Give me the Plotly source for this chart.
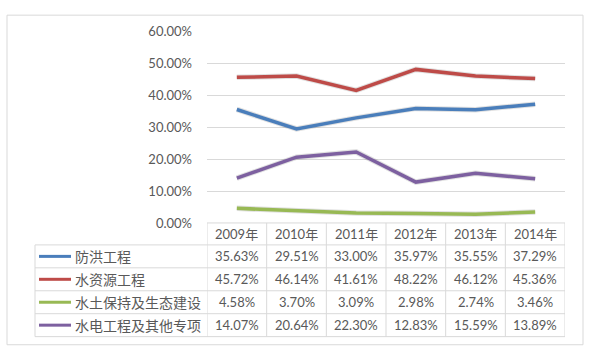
import plotly.graph_objects as go

# ---- data ----
years = ["2009年", "2010年", "2011年", "2012年", "2013年", "2014年"]
series_names = ["防洪工程", "水资源工程", "水土保持及生态建设", "水电工程及其他专项"]
flood = [35.63, 29.51, 33.00, 35.97, 35.55, 37.29]
water = [45.72, 46.14, 41.61, 48.22, 46.12, 45.36]
soil = [4.58, 3.70, 3.09, 2.98, 2.74, 3.46]
hydro = [14.07, 20.64, 22.30, 12.83, 15.59, 13.89]
series_values = [flood, water, soil, hydro]
colors = ["#4A7EBB", "#BE4B48", "#98B954", "#7D60A0"]
y_ticks = [0, 0.1, 0.2, 0.3, 0.4, 0.5, 0.6]

W, H = 589, 358
def px(x):
    return x / W
def py(y):
    return 1 - y / H

TXT = "#595959"
GRID = "#D9D9D9"
NUMFONT = dict(family="Lato, 'Noto Sans CJK SC', sans-serif", size=13, color=TXT)
CJKFONT = dict(family="'Noto Sans CJK SC', sans-serif", size=14, color=TXT)

fig = go.Figure()
idx = list(range(len(years)))
for name, vals, c in zip(series_names, series_values, colors):
    v = [x / 100 for x in vals]
    # faint shadow
    fig.add_trace(go.Scatter(x=idx, y=v, mode="lines", hoverinfo="skip",
                             line=dict(color="rgba(0,0,0,0.12)", width=5.5),
                             showlegend=False))
    fig.add_trace(go.Scatter(x=idx, y=v, mode="lines", name=name,
                             line=dict(color=c, width=3.5), showlegend=False))

# table geometry (pixels)
plot_left, plot_right = 207, 565
table_top = 225
row_lines = [248, 272, 296, 320, 344]
leg_left = 35
row_centers = [(row_lines[i] + row_lines[i + 1]) / 2 for i in range(4)]
header_center = (table_top + row_lines[0]) / 2

shapes = []
# outer border
shapes.append(dict(type="rect", xref="paper", yref="paper", x0=px(7), x1=px(583),
                   y0=py(352.5), y1=py(7.5), line=dict(color=GRID, width=1)))
# table horizontal lines
shapes.append(dict(type="line", xref="paper", yref="paper", x0=px(plot_left), x1=px(plot_right),
                   y0=py(table_top), y1=py(table_top), line=dict(color=GRID, width=1)))
for r in row_lines:
    shapes.append(dict(type="line", xref="paper", yref="paper", x0=px(leg_left), x1=px(plot_right),
                       y0=py(r), y1=py(r), line=dict(color=GRID, width=1)))
# vertical lines at category boundaries
for i in range(len(years) + 1):
    shapes.append(dict(type="line", xref="x", yref="paper", x0=i - 0.5, x1=i - 0.5,
                       y0=py(row_lines[-1]), y1=py(table_top), line=dict(color=GRID, width=1)))
shapes.append(dict(type="line", xref="paper", yref="paper", x0=px(leg_left), x1=px(leg_left),
                   y0=py(row_lines[-1]), y1=py(row_lines[0]), line=dict(color=GRID, width=1)))
# legend keys
for rc, c in zip(row_centers, colors):
    shapes.append(dict(type="line", xref="paper", yref="paper", x0=px(39), x1=px(71),
                       y0=py(rc), y1=py(rc), line=dict(color=c, width=3)))

annotations = []
for i, yr in enumerate(years):
    annotations.append(dict(x=i, y=py(header_center), xref="x", yref="paper", text=yr,
                            showarrow=False, font=NUMFONT, xanchor="center", yanchor="middle"))
for rc, name, vals in zip(row_centers, series_names, series_values):
    annotations.append(dict(x=px(73), y=py(rc), xref="paper", yref="paper", text=name,
                            showarrow=False, font=CJKFONT, xanchor="left", yanchor="middle"))
    for i, v in enumerate(vals):
        annotations.append(dict(x=i, y=py(rc), xref="x", yref="paper", text=f"{v:.2f}%",
                                showarrow=False, font=NUMFONT, xanchor="center", yanchor="middle"))

fig.update_layout(
    width=W, height=H, margin=dict(l=0, r=0, t=0, b=0),
    paper_bgcolor="white", plot_bgcolor="white", showlegend=False,
    xaxis=dict(domain=[px(plot_left), px(plot_right)], range=[-0.5, 5.5],
               showgrid=False, zeroline=False, showticklabels=False, showline=False, fixedrange=True),
    yaxis=dict(domain=[py(table_top), py(25)], range=[0, 0.6], tickvals=y_ticks,
               tickformat=".2%", showgrid=True, gridcolor=GRID, gridwidth=1, zeroline=False,
               showline=False, ticks="", ticklabelstandoff=14, tickfont=NUMFONT, fixedrange=True),
    shapes=shapes, annotations=annotations,
)

fig.write_html("out.html", config={"displayModeBar": False},
               post_script="document.body.style.margin='0';document.body.style.overflow='hidden';")
